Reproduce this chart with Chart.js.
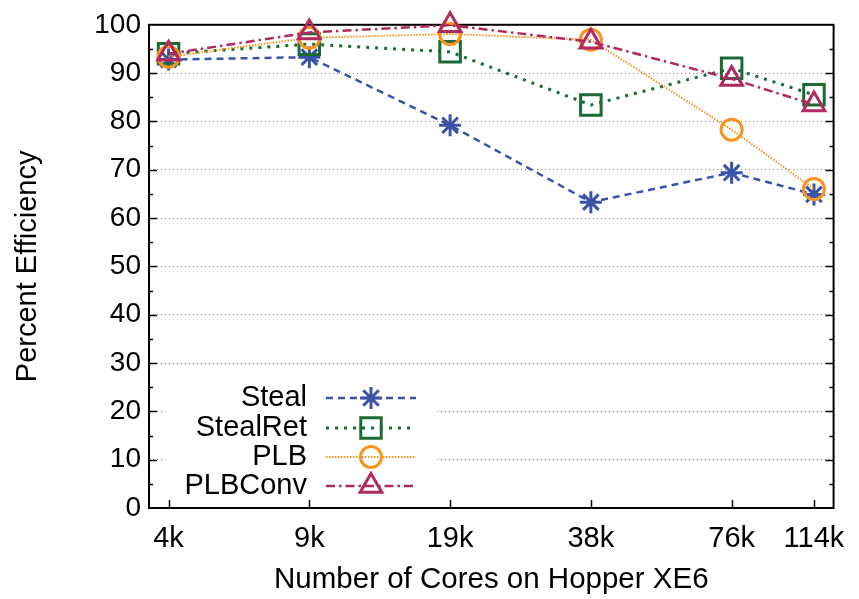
<!DOCTYPE html>
<html>
<head>
<meta charset="utf-8">
<script src="https://cdn.jsdelivr.net/npm/chart.js@4.4.0/dist/chart.umd.min.js"></script>
<style>
    html, body { margin: 0; padding: 0; background: #ffffff; }
    #wrap { width: 859px; height: 599px; position: relative; }
</style>
</head>
<body>
<div id="wrap"><canvas id="efficiency-chart"></canvas></div>
<script>
// cores on Hopper XE6 (log x axis) and their labels
const cores = [4608, 9216, 18432, 36864, 73728, 110592];
const coreLabels = ['4k', '9k', '19k', '38k', '76k', '114k'];

// percent efficiency per scheme
const steal = [92.8, 93.3, 79.2, 63.3, 69.4, 64.9];
const stealRet = [94.0, 96.0, 94.4, 83.4, 91.0, 85.5];
const plb = [93.4, 97.3, 98.1, 96.9, 78.3, 66.0];
const plbConv = [94.0, 98.4, 99.9, 96.5, 88.8, 83.5];

const yTicks = [0, 10, 20, 30, 40, 50, 60, 70, 80, 90, 100];

const FONT = 'Liberation Sans, Arial, Helvetica, sans-serif';

function points(values)
{
    return values.map((v, i) => ({x: cores[i], y: v}));
}

let datasets = [
    {
        label: 'Steal',
        data: points(steal),
        borderColor: '#3a53a6',
        borderWidth: 2.5,
        borderDash: [7, 5],
        pointStyle: 'star',
        pointRadius: 11,
        order: 4
    },
    {
        label: 'StealRet',
        data: points(stealRet),
        borderColor: '#1b6b36',
        borderWidth: 3,
        borderDash: [3, 6],
        pointStyle: 'rect',
        pointRadius: 14.5,
        order: 3
    },
    {
        label: 'PLB',
        data: points(plb),
        borderColor: '#f7941e',
        borderWidth: 2,
        borderDash: [1.5, 1.5],
        pointStyle: 'circle',
        pointRadius: 10.5,
        order: 2
    },
    {
        label: 'PLBConv',
        data: points(plbConv),
        borderColor: '#b0295f',
        borderWidth: 2.5,
        borderDash: [9, 4, 2.5, 4],
        pointStyle: 'triangle',
        pointRadius: 12.5,
        order: 1
    }
];

datasets.forEach(ds =>
{
    ds.pointBorderColor = ds.borderColor;
    ds.pointBackgroundColor = 'rgba(0,0,0,0)';
    ds.pointBorderWidth = 3;
    ds.pointHoverRadius = ds.pointRadius;
    ds.tension = 0;
    ds.fill = false;
    ds.clip = false;
});

// gnuplot style frame, inside ticks and the key
const framePlugin = {
    id: 'frame',
    beforeDatasetsDraw(chart)
    {
        const ctx = chart.ctx;
        const area = chart.chartArea;
        const y = chart.scales.y;
        const x = chart.scales.x;

        // blank box behind the key
        ctx.save();
        ctx.fillStyle = '#ffffff';
        ctx.fillRect(164, 382, 270, 120);

        ctx.strokeStyle = '#000000';
        ctx.lineWidth = 1.5;

        // y ticks, left and right, major every 10 and minor every 5
        for (let v = 5; v < 100; v += 5)
        {
            let py = Math.round(y.getPixelForValue(v)) + 0.5;
            let len = (v % 10 === 0) ? 8 : 4;
            ctx.beginPath();
            ctx.moveTo(area.left, py);
            ctx.lineTo(area.left + len, py);
            ctx.moveTo(area.right, py);
            ctx.lineTo(area.right - len, py);
            ctx.stroke();
        }

        // x ticks along the bottom
        for (let i = 0; i < cores.length; i++)
        {
            let px = Math.round(x.getPixelForValue(cores[i])) + 0.5;
            ctx.beginPath();
            ctx.moveTo(px, area.bottom);
            ctx.lineTo(px, area.bottom - 8);
            ctx.stroke();
        }

        ctx.lineWidth = 2;
        ctx.strokeRect(area.left, area.top, area.right - area.left, area.bottom - area.top);
        ctx.restore();
    },
    afterDraw(chart)
    {
        const ctx = chart.ctx;
        const rowY = [398, 428, 457, 486];

        ctx.save();
        ctx.font = '29px ' + FONT;
        ctx.textAlign = 'right';
        ctx.textBaseline = 'middle';

        chart.data.datasets.forEach((ds, i) =>
        {
            let yy = rowY[i];
            ctx.fillStyle = '#000000';
            ctx.fillText(ds.label, 307, yy);

            ctx.save();
            ctx.strokeStyle = ds.borderColor;
            ctx.lineWidth = ds.borderWidth;
            ctx.setLineDash(ds.borderDash);
            ctx.beginPath();
            ctx.moveTo(326, yy);
            ctx.lineTo(416, yy);
            ctx.stroke();
            ctx.restore();

            ctx.save();
            ctx.strokeStyle = ds.borderColor;
            ctx.fillStyle = 'rgba(0,0,0,0)';
            ctx.lineWidth = ds.pointBorderWidth;
            Chart.helpers.drawPoint(ctx, {pointStyle: ds.pointStyle, radius: ds.pointRadius, rotation: 0, borderWidth: ds.pointBorderWidth}, 371, yy);
            ctx.restore();
        });

        ctx.restore();
    }
};

new Chart(
    document.getElementById('efficiency-chart'),
    {
        type: 'line',
        data: {
            datasets: datasets
        },
        options: {
            responsive: true,
            maintainAspectRatio: false,
            animation: false,
            devicePixelRatio: 1,
            layout: {
                padding: {left: 0, right: 23, top: 20, bottom: 0}
            },
            plugins: {
                legend: {display: false},
                tooltip: {enabled: false},
                title: {display: false}
            },
            scales: {
                x: {
                    type: 'logarithmic',
                    min: 4185,
                    max: 121800,
                    afterBuildTicks: function(scale)
                    {
                        scale.ticks = cores.map(v => ({value: v}));
                    },
                    afterFit: function(scale)
                    {
                        scale.height = 91;
                    },
                    ticks: {
                        autoSkip: false,
                        maxRotation: 0,
                        padding: 14,
                        color: '#000000',
                        font: {family: FONT, size: 29},
                        callback: function(value)
                        {
                            let i = cores.indexOf(value);
                            return i >= 0 ? coreLabels[i] : '';
                        }
                    },
                    grid: {display: false, drawTicks: false},
                    border: {display: false},
                    title: {
                        display: true,
                        text: 'Number of Cores on Hopper XE6',
                        color: '#000000',
                        font: {family: FONT, size: 29.5, lineHeight: 1.2},
                        padding: {top: 0, bottom: 1}
                    }
                },
                y: {
                    min: 0,
                    max: 100,
                    afterBuildTicks: function(scale)
                    {
                        scale.ticks = yTicks.map(v => ({value: v}));
                    },
                    afterFit: function(scale)
                    {
                        scale.width = 149;
                    },
                    ticks: {
                        padding: 8,
                        color: '#000000',
                        font: {family: FONT, size: 28}
                    },
                    grid: {
                        drawTicks: false,
                        lineWidth: 1,
                        color: ctx => (ctx.tick && (ctx.tick.value === 0 || ctx.tick.value === 100)) ? 'rgba(0,0,0,0)' : '#7a7a7a'
                    },
                    border: {display: false, dash: [1, 3]},
                    title: {
                        display: true,
                        text: 'Percent Efficiency',
                        color: '#000000',
                        font: {family: FONT, size: 29, lineHeight: 1.2},
                        padding: {top: 11, bottom: 0}
                    }
                }
            }
        },
        plugins: [framePlugin]
    }
);
</script>
</body>
</html>
